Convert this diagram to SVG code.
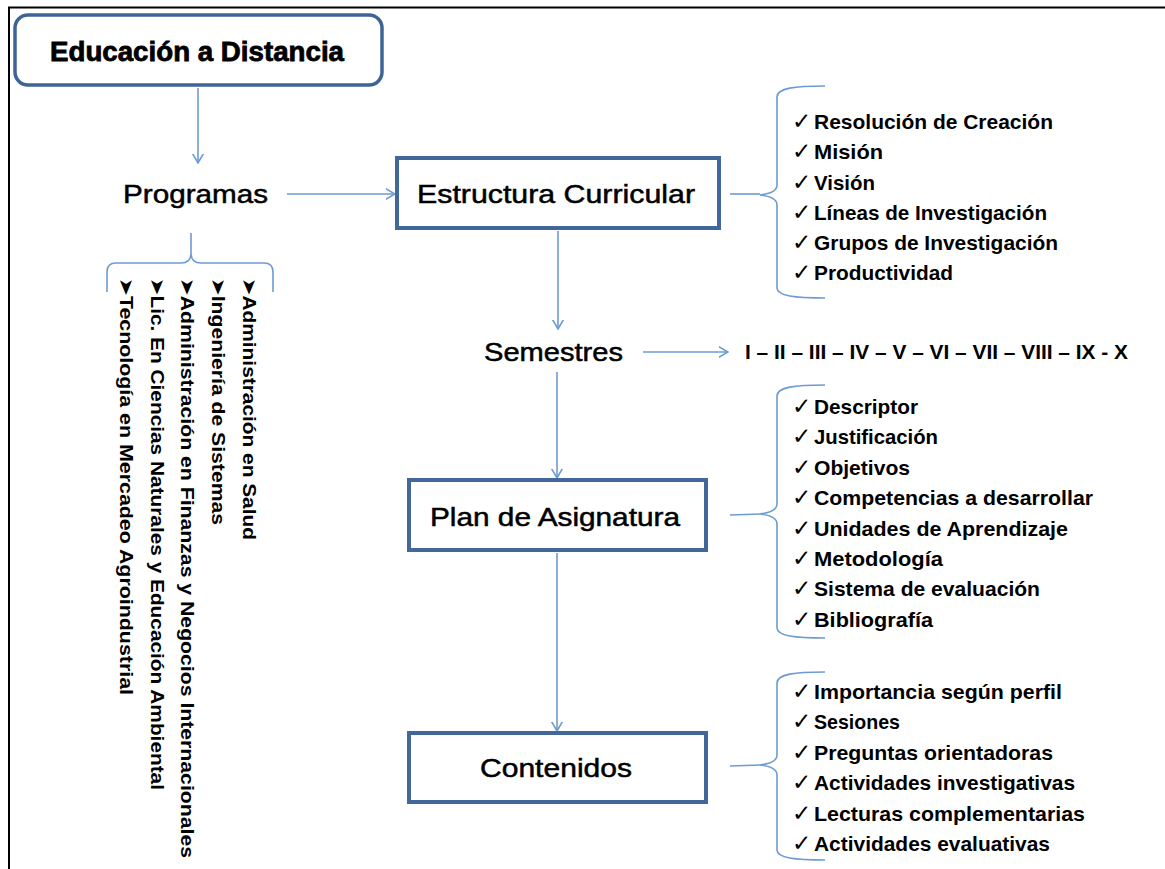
<svg xmlns="http://www.w3.org/2000/svg" width="1165" height="869" viewBox="0 0 1165 869">
<style>
.box{fill:#fff;stroke:#41679b;stroke-width:4}
.lbl{font-family:"Liberation Sans",Arial,sans-serif;font-size:26px;fill:#000;stroke:#000;stroke-width:0.5}
.ttl{font-family:"Liberation Sans",Arial,sans-serif;font-size:27px;font-weight:bold;fill:#000;stroke:#000;stroke-width:0.8}
.con{fill:none;stroke:#6d9bd3;stroke-width:1.6}
.br{fill:none;stroke:#6d9bd3;stroke-width:1.6}
.it{font-family:"Liberation Sans",Arial,sans-serif;font-size:21px;font-weight:bold;fill:#000}
.ck{font-family:"DejaVu Sans","Liberation Sans",sans-serif;font-size:23px;font-weight:bold;fill:#000}
.vt{font-family:"Liberation Sans","DejaVu Sans",sans-serif;font-size:19px;font-weight:bold;fill:#000}
</style>
<defs>
<marker id="ah" viewBox="0 0 10 12" refX="9.5" refY="6" markerWidth="10" markerHeight="12" markerUnits="userSpaceOnUse" orient="auto">
<path d="M0,0.5 L9.5,6 L0,11.5" fill="none" stroke="#6d9bd3" stroke-width="1.6"/>
</marker>
</defs>
<rect width="1165" height="869" fill="#fff"/>
<path d="M9,869 L9,7.5 L1165,7.5" fill="none" stroke="#000" stroke-width="2"/>

<g id="connectors">
<line class="con" x1="198" y1="88" x2="198" y2="163" marker-end="url(#ah)"/>
<line class="con" x1="287" y1="194" x2="395" y2="194" marker-end="url(#ah)"/>
<line class="con" x1="558" y1="231" x2="558" y2="329" marker-end="url(#ah)"/>
<line class="con" x1="643" y1="352" x2="728" y2="352" marker-end="url(#ah)"/>
<line class="con" x1="557" y1="372" x2="557" y2="478" marker-end="url(#ah)"/>
<line class="con" x1="557" y1="553" x2="557" y2="731" marker-end="url(#ah)"/>
<line class="con" x1="730" y1="194" x2="760" y2="194"/>
<line class="con" x1="730" y1="515" x2="760" y2="514"/>
<line class="con" x1="730" y1="766" x2="760" y2="765"/>
</g>

<g id="title">
<rect x="15" y="15" width="367" height="70" rx="13" ry="13" fill="#fff" stroke="#3e6496" stroke-width="3.5"/>
<text class="ttl" x="50" y="61" textLength="294" lengthAdjust="spacingAndGlyphs">Educación a Distancia</text>
</g>

<g id="programas">
<text class="lbl" x="123" y="203" textLength="145" lengthAdjust="spacingAndGlyphs">Programas</text>
</g>

<g id="programas-list">
<path class="br" d="M191,233 L191,253 Q191,263 181,263 L116,263 Q107,263 107,272 L107,292 M191,253 Q191,263 201,263 L264,263 Q273,263 273,272 L273,292"/>
<text class="vt" transform="translate(243,278) rotate(90)" x="0" y="0" textLength="262" lengthAdjust="spacingAndGlyphs">➤Administración en Salud</text>
<text class="vt" transform="translate(212,278) rotate(90)" x="0" y="0" textLength="247" lengthAdjust="spacingAndGlyphs">➤Ingeniería de Sistemas</text>
<text class="vt" transform="translate(181,278) rotate(90)" x="0" y="0" textLength="580" lengthAdjust="spacingAndGlyphs">➤Administración en Finanzas y Negocios Internacionales</text>
<text class="vt" transform="translate(151,278) rotate(90)" x="0" y="0" textLength="512" lengthAdjust="spacingAndGlyphs">➤Lic. En Ciencias Naturales y Educación Ambiental</text>
<text class="vt" transform="translate(120,278) rotate(90)" x="0" y="0" textLength="417" lengthAdjust="spacingAndGlyphs">➤Tecnología en Mercadeo Agroindustrial</text>
</g>

<g id="estructura">
<rect class="box" x="397" y="158" width="322" height="70"/>
<text class="lbl" x="417" y="203" textLength="278" lengthAdjust="spacingAndGlyphs">Estructura Curricular</text>
</g>

<g id="estructura-list">
<path class="br" d="M825,86 C795,86 777,88 777,97 L777,185 Q777,193 760,195 Q777,197 777,205 L777,288 C777,296 795,298 825,298"/>
<text class="ck" x="792" y="129">✓</text><text class="it" x="814" y="129" textLength="239" lengthAdjust="spacingAndGlyphs">Resolución de Creación</text>
<text class="ck" x="792" y="159">✓</text><text class="it" x="814" y="159" textLength="69" lengthAdjust="spacingAndGlyphs">Misión</text>
<text class="ck" x="792" y="190">✓</text><text class="it" x="814" y="190" textLength="61" lengthAdjust="spacingAndGlyphs">Visión</text>
<text class="ck" x="792" y="220">✓</text><text class="it" x="814" y="220" textLength="233" lengthAdjust="spacingAndGlyphs">Líneas de Investigación</text>
<text class="ck" x="792" y="250">✓</text><text class="it" x="814" y="250" textLength="244" lengthAdjust="spacingAndGlyphs">Grupos de Investigación</text>
<text class="ck" x="792" y="280">✓</text><text class="it" x="814" y="280" textLength="139" lengthAdjust="spacingAndGlyphs">Productividad</text>
</g>

<g id="semestres">
<text class="lbl" x="484" y="361" textLength="139" lengthAdjust="spacingAndGlyphs">Semestres</text>
</g>

<g id="semestres-list">
<text class="it" x="745" y="359" textLength="383" lengthAdjust="spacingAndGlyphs">I – II – III – IV – V – VI – VII – VIII – IX - X</text>
</g>

<g id="plan">
<rect class="box" x="409" y="480" width="297" height="70"/>
<text class="lbl" x="430" y="526" textLength="250" lengthAdjust="spacingAndGlyphs">Plan de Asignatura</text>
</g>

<g id="plan-list">
<path class="br" d="M825,385 C795,385 777,387 777,396 L777,504 Q777,512 760,514 Q777,516 777,524 L777,628 C777,636 795,638 825,638"/>
<text class="ck" x="792" y="414">✓</text><text class="it" x="814" y="414" textLength="104" lengthAdjust="spacingAndGlyphs">Descriptor</text>
<text class="ck" x="792" y="444">✓</text><text class="it" x="814" y="444" textLength="124" lengthAdjust="spacingAndGlyphs">Justificación</text>
<text class="ck" x="792" y="475">✓</text><text class="it" x="814" y="475" textLength="96" lengthAdjust="spacingAndGlyphs">Objetivos</text>
<text class="ck" x="792" y="505">✓</text><text class="it" x="814" y="505" textLength="279" lengthAdjust="spacingAndGlyphs">Competencias a desarrollar</text>
<text class="ck" x="792" y="536">✓</text><text class="it" x="814" y="536" textLength="254" lengthAdjust="spacingAndGlyphs">Unidades de Aprendizaje</text>
<text class="ck" x="792" y="566">✓</text><text class="it" x="814" y="566" textLength="129" lengthAdjust="spacingAndGlyphs">Metodología</text>
<text class="ck" x="792" y="596">✓</text><text class="it" x="814" y="596" textLength="226" lengthAdjust="spacingAndGlyphs">Sistema de evaluación</text>
<text class="ck" x="792" y="627">✓</text><text class="it" x="814" y="627" textLength="119" lengthAdjust="spacingAndGlyphs">Bibliografía</text>
</g>

<g id="contenidos">
<rect class="box" x="409" y="733" width="297" height="69"/>
<text class="lbl" x="480" y="777" textLength="152" lengthAdjust="spacingAndGlyphs">Contenidos</text>
</g>

<g id="contenidos-list">
<path class="br" d="M825,672 C795,672 777,674 777,683 L777,755 Q777,763 760,765 Q777,767 777,775 L777,850 C777,858 795,860 825,860"/>
<text class="ck" x="792" y="699">✓</text><text class="it" x="814" y="699" textLength="248" lengthAdjust="spacingAndGlyphs">Importancia según perfil</text>
<text class="ck" x="792" y="729">✓</text><text class="it" x="814" y="729" textLength="86" lengthAdjust="spacingAndGlyphs">Sesiones</text>
<text class="ck" x="792" y="760">✓</text><text class="it" x="814" y="760" textLength="239" lengthAdjust="spacingAndGlyphs">Preguntas orientadoras</text>
<text class="ck" x="792" y="790">✓</text><text class="it" x="814" y="790" textLength="261" lengthAdjust="spacingAndGlyphs">Actividades investigativas</text>
<text class="ck" x="792" y="821">✓</text><text class="it" x="814" y="821" textLength="271" lengthAdjust="spacingAndGlyphs">Lecturas complementarias</text>
<text class="ck" x="792" y="851">✓</text><text class="it" x="814" y="851" textLength="236" lengthAdjust="spacingAndGlyphs">Actividades evaluativas</text>
</g>
</svg>
